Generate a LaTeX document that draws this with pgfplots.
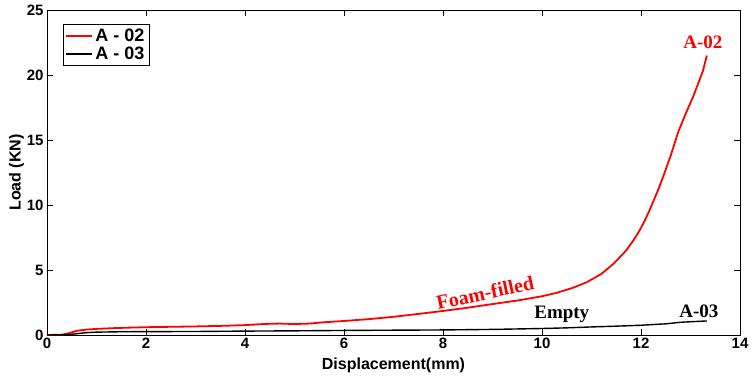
\documentclass[border=0pt]{standalone}
\usepackage{pgfplots}
\pgfplotsset{compat=1.18}
\usepackage{fontspec}
\setmainfont{Liberation Sans}
\newfontfamily\timesb{Liberation Serif}
\begin{document}
\begin{tikzpicture}
\begin{axis}[
  at={(0,0)}, anchor=south west,
  scale only axis, width=693bp, height=325bp,
  xmin=0, xmax=14, ymin=0, ymax=25,
  xtick={0,2,...,14}, ytick={0,5,...,25},
  tick align=inside, major tick length=6bp,
  axis line style={line width=0.7pt},
  every tick/.style={black, line width=0.6pt},
  tick label style={font=\fontsize{15bp}{18bp}\selectfont\bfseries},
  /pgf/number format/assume math mode=true,
  xlabel={Displacement(mm)}, ylabel={Load (KN)},
  label style={font=\fontsize{16bp}{19bp}\selectfont\bfseries},
  xlabel style={yshift=-2bp},
  ylabel style={yshift=-4bp},
  legend style={at={(0.023,0.957)}, anchor=north west, draw=black, line width=0.5pt,
    font=\fontsize{18bp}{21bp}\selectfont\bfseries, inner sep=2.5bp, row sep=0bp,
    cells={anchor=west}},
  legend cell align=left,
  legend image code/.code={\draw[#1, line width=1.6pt] (0bp,0bp) -- (26bp,0bp);},
  clip=false,
]
\addplot[red, line width=1.8pt] coordinates {
(0,0) (0.3,0.02) (0.45,0.15) (0.6,0.32) (0.8,0.42) (1.0,0.47) (1.3,0.52) (1.6,0.56)
(2.0,0.6) (2.5,0.63) (3.0,0.66) (3.5,0.7) (4.0,0.76) (4.4,0.85) (4.7,0.88) (5.0,0.84)
(5.3,0.88) (5.6,0.98) (6.0,1.08) (6.5,1.22) (7.0,1.4) (7.5,1.62) (8.0,1.85) (8.5,2.1)
(9.0,2.38) (9.5,2.65) (10.0,2.98) (10.3,3.25) (10.6,3.6) (10.9,4.05) (11.2,4.7)
(11.45,5.5) (11.7,6.5) (11.85,7.3) (11.95,7.9) (12.05,8.6) (12.15,9.4) (12.25,10.3)
(12.35,11.2) (12.45,12.2) (12.6,13.8) (12.75,15.6) (12.9,17.0) (13.05,18.3) (13.15,19.3)
(13.25,20.3) (13.33,21.5)
};
\addlegendentry{A - 02}
\addplot[black, line width=1.4pt] coordinates {
(0,0) (0.4,0.02) (0.6,0.1) (0.8,0.18) (1.0,0.22) (1.5,0.25) (2,0.26) (3,0.27)
(4,0.3) (5,0.32) (6,0.35) (7,0.37) (8,0.39) (9,0.43) (10,0.5) (10.5,0.55)
(11,0.62) (11.5,0.68) (12,0.75) (12.5,0.86) (12.8,0.98) (13,1.02) (13.33,1.08)
};
\addlegendentry{A - 03}
\node[red, font=\fontsize{19bp}{22bp}\selectfont\timesb\bfseries] at (axis cs:13.25,22.5) {A-02};
\node[red, rotate=12, font=\fontsize{20bp}{23bp}\selectfont\timesb\bfseries] at (axis cs:8.85,3.25) {Foam-filled};
\node[black, font=\fontsize{19bp}{22bp}\selectfont\timesb\bfseries] at (axis cs:10.4,1.6) {Empty};
\node[black, font=\fontsize{19bp}{22bp}\selectfont\timesb\bfseries] at (axis cs:13.17,1.85) {A-03};
\end{axis}
\pgfresetboundingbox
\path[use as bounding box] (-47bp,-45bp) rectangle (709bp,335bp);
\end{tikzpicture}
\end{document}
